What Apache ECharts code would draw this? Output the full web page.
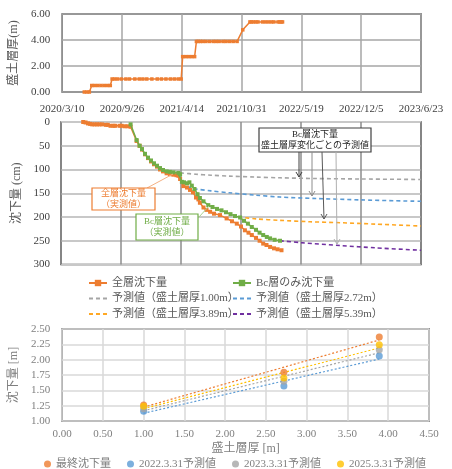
<!DOCTYPE html>
<html><head><meta charset="utf-8">
<script src="https://cdn.jsdelivr.net/npm/echarts@6/dist/echarts.min.js"></script>
<style>html,body{margin:0;padding:0;background:#fff}#c{width:452px;height:469px}</style>
</head><body><div id="c"></div>
<script>
// x values in the two time charts = days since 2020/3/10
const dateTicks = ['2020/3/10','2020/9/26','2021/4/14','2021/10/31','2022/5/19','2022/12/5','2023/6/23'];

// 盛土層厚 (m)
const fillThickness = [[74,0],[83,0],[91,0],[99,0.5],[108,0.5],[119,0.5],[130,0.5],[141,0.5],[152,0.5],[161,0.5],
 [167,1],[175,1],[185,1],[198,1],[213,1],[225,1],[243,1],[258,1],[270,1],[283,1],[300,1],[318,1],[332,1],[347,1],[362,1],[375,1],[388,1],[398,1],
 [403,2.72],[413,2.72],[423,2.72],[433,2.72],[443,2.72],
 [449,3.89],[455,3.89],[462,3.89],[470,3.89],[480,3.89],[492,3.89],[505,3.89],[515,3.89],[525,3.89],[538,3.89],[548,3.89],[560,3.89],[572,3.89],[585,3.89],
 [604,4.78],
 [628,5.39],[633,5.39],[640,5.39],[648,5.39],[655,5.39],[670,5.39],[680,5.39],[690,5.39],[700,5.39],[708,5.39],[722,5.39],[728,5.39],[733,5.39],[737,5.39]];

// 全層沈下量 (cm)
const totalSettle = [[74,0],[82,1],[90,3],[97,4],[104,5],[112,5],[120,5],[128,5],[137,5],[150,6],[156,6],[165,8],[175,8],[180,8],[195,8],[202,8],[212,9],[222,9],[232,10],
 [252,40],[262,50],[270,58],[280,68],[290,76],[300,83],[310,89],[320,94],[330,100],[340,104],[352,108],[363,110],[375,111],[385,112],[391,113],[397,120],
 [408,135],[420,138],[430,143],[440,148],[450,159],[458,163],[463,170],[475,180],[485,185],[497,189],[510,193],[530,196],[552,203],[570,209],[586,214],
 [600,220],[613,228],[625,233],[636,238],[650,244],[662,250],[674,256],[685,259],[697,263],[710,266],[722,268],[735,270]];

// Bc層のみ沈下量 (cm)
const bcSettle = [[232,5],[252,38],[262,50],[270,57],[280,67],[290,75],[300,81],[310,87],[320,92],[330,97],[340,101],[352,104],[363,105],[375,106],[391,107],[397,110],
 [403,126],[410,127],[420,129],[428,127],[436,134],[445,141],[455,152],[463,160],[475,167],[491,175],[505,179],[520,183],[535,186],[550,190],[565,194],[580,198],
 [597,201],[610,208],[623,214],[636,221],[650,227],[662,233],[674,238],[686,242],[697,245],[712,248],[730,250]];

// 予測値 (cm)
const pred100 = [[397,107],[450,110],[500,112],[560,114],[650,116],[730,117.5],[850,119],[1000,120],[1200,121]];
const pred272 = [[420,136],[450,141],[500,145],[560,149],[650,154],[730,158],[850,161],[1000,164],[1200,167]];
const pred389 = [[591,200],[650,204],[730,207],[830,210],[930,212],[1050,215],[1200,219]];
const pred539 = [[730,250],[800,254],[930,260],[1050,265],[1200,270]];

// bottom chart
const thickness = [1.00, 2.72, 3.89];
const finalSettle = [1.26, 1.795, 2.37];
const p2022 = [1.16, 1.57, 2.06];
const p2023 = [1.20, 1.65, 2.16];
const p2025 = [1.24, 1.70, 2.245];

const FONT = "'Liberation Serif','Noto Sans CJK JP',serif";
const C_OR = '#ED7D31', C_GR = '#70AD47', C_GY = '#A5A5A5', C_BL = '#5B9BD5', C_YE = '#FFA824', C_PU = '#7030A0', C_Y2 = '#FFC000';

function dayLabel(v){ return dateTicks[Math.round(v/200)] || ''; }
function pairs(xs, ys){ return xs.map((x,i)=>[x, ys[i]]); }
function trend(xs, ys){
  const n=xs.length, mx=xs.reduce((a,b)=>a+b)/n, my=ys.reduce((a,b)=>a+b)/n;
  let sxy=0,sxx=0; xs.forEach((x,i)=>{sxy+=(x-mx)*(ys[i]-my); sxx+=(x-mx)*(x-mx);});
  const b=sxy/sxx, a=my-b*mx; const x0=xs[0], x1=xs[n-1];
  return [[x0,a+b*x0],[x1,a+b*x1]];
}

const lab = (c, extra) => Object.assign({color:c, fontSize:11, fontFamily:FONT}, extra||{});
const nameStyle = (c) => ({color:c, fontSize:12, fontFamily:FONT});

const chart = echarts.init(document.getElementById('c'), null, {renderer:'canvas'});
const predLine = (name, data, color) => ({name, type:'line', xAxisIndex:1, yAxisIndex:1, data, symbol:'none', smooth:0.3,
  color, lineStyle:{color, width:1.6, type:[4,3]}, z:3});
const trendLine = (data, color) => ({type:'line', xAxisIndex:2, yAxisIndex:2, data, symbol:'none', silent:true,
  lineStyle:{color, width:1.2, type:[2,2]}, z:2});
const scatter = (name, ys, color) => ({name, type:'scatter', xAxisIndex:2, yAxisIndex:2, data:pairs(thickness, ys), symbolSize:7, color, itemStyle:{color}, z:4});
const noDot = (name) => ({name, itemStyle:{opacity:0}});

// annotations (pixel overlays)
const annFont = '9px ' + FONT;
function arrow(x1,y1,x2,y2,color){
  return [{type:'line', shape:{x1,y1,x2,y2}, style:{stroke:color, lineWidth:1}, z:100},
          {type:'polyline', shape:{points:[[x2-3,y2-5],[x2,y2],[x2+3,y2-5]]}, style:{stroke:color, lineWidth:1, fill:null}, z:100}];
}
const graphics = [
  {type:'line', shape:{x1:147,y1:188,x2:173,y2:174}, style:{stroke:'#F4B183', lineWidth:1}, z:99},
  {type:'rect', shape:{x:92,y:188,width:63,height:22}, style:{fill:'#fff', stroke:C_OR, lineWidth:1.2}, z:100},
  {type:'text', x:123.5, y:194, style:{text:'全層沈下量', fill:C_OR, font:annFont, align:'center', verticalAlign:'middle'}, z:101},
  {type:'text', x:123.5, y:205, style:{text:'（実測値）', fill:C_OR, font:annFont, align:'center', verticalAlign:'middle'}, z:101},
  {type:'line', shape:{x1:199,y1:217,x2:209,y2:206}, style:{stroke:'#A9D18E', lineWidth:1}, z:99},
  {type:'rect', shape:{x:136,y:214,width:62,height:26}, style:{fill:'#fff', stroke:C_GR, lineWidth:1.2}, z:100},
  {type:'text', x:167, y:221.5, style:{text:'Bc層沈下量', fill:C_GR, font:annFont, align:'center', verticalAlign:'middle'}, z:101},
  {type:'text', x:167, y:233, style:{text:'（実測値）', fill:C_GR, font:annFont, align:'center', verticalAlign:'middle'}, z:101},
  {type:'rect', shape:{x:259,y:128,width:112,height:24}, style:{fill:'#fff', stroke:'#404040', lineWidth:1.2}, z:100},
  {type:'text', x:315, y:134.5, style:{text:'Bc層沈下量', fill:'#262626', font:annFont, align:'center', verticalAlign:'middle'}, z:101},
  {type:'text', x:315, y:145.5, style:{text:'盛土層厚変化ごとの予測値', fill:'#262626', font:annFont, align:'center', verticalAlign:'middle'}, z:101},
  ...arrow(299,152,299,177,'#404040'),
  ...arrow(312,152,312,196,'#8c8c8c'),
  ...arrow(322,152,324,219,'#595959'),
  ...arrow(336,152,337,244,'#b0b0b0')
];

const option = {
  animation:false,
  backgroundColor:'#fff',
  textStyle:{fontFamily:FONT},
  grid:[
    {left:61, top:14, width:360, height:78, show:true, borderColor:'#404040', borderWidth:1.5},
    {left:61, top:122, width:360, height:142.5, show:true, borderColor:'#404040', borderWidth:1.5},
    {left:62, top:329, width:367, height:92, show:true, borderColor:'#404040', borderWidth:1.5}
  ],
  xAxis:[
    {gridIndex:0, type:'value', min:0, max:1200, interval:200, axisLine:{show:false}, axisTick:{show:false},
     axisLabel:lab('#404040',{formatter:dayLabel, margin:12, showMinLabel:true, showMaxLabel:true}),
     splitLine:{lineStyle:{color:'#a6a6a6', width:1.5}}},
    {gridIndex:1, type:'value', min:0, max:1200, interval:200, axisLine:{show:false}, axisTick:{show:false},
     axisLabel:{show:false}, splitLine:{lineStyle:{color:'#8c8c8c', width:1.5}}},
    {gridIndex:2, type:'value', min:0, max:4.5, interval:0.5, axisLine:{show:false}, axisTick:{show:false},
     name:'盛土層厚 [m]', nameLocation:'middle', nameGap:22, nameTextStyle:nameStyle('#7f7f7f'),
     axisLabel:lab('#7f7f7f',{formatter:v=>v.toFixed(2), margin:8}),
     splitLine:{lineStyle:{color:'#d9d9d9', width:1.5}}}
  ],
  yAxis:[
    {gridIndex:0, type:'value', min:0, max:6, interval:2, axisLine:{show:false}, axisTick:{show:false},
     name:'盛土層厚(m)', nameLocation:'middle', nameGap:39, nameTextStyle:nameStyle('#595959'),
     axisLabel:lab('#404040',{formatter:v=>v.toFixed(2), margin:12}),
     splitLine:{lineStyle:{color:'#a6a6a6', width:1.5}}},
    {gridIndex:1, type:'value', inverse:true, min:0, max:300, interval:50, axisLine:{show:false}, axisTick:{show:false},
     name:'沈下量 (cm)', nameLocation:'middle', nameGap:36, nameTextStyle:nameStyle('#595959'),
     axisLabel:lab('#404040',{margin:11}),
     splitLine:{lineStyle:{color:'#c8c8c8', width:2}}},
    {gridIndex:2, type:'value', min:1, max:2.5, interval:0.25, axisLine:{show:false}, axisTick:{show:false},
     name:'沈下量 [m]', nameLocation:'middle', nameGap:37, nameTextStyle:nameStyle('#7f7f7f'),
     axisLabel:lab('#7f7f7f',{formatter:v=>v.toFixed(2), margin:12}),
     splitLine:{lineStyle:{color:'#d9d9d9', width:1.5}}}
  ],
  legend:[
    {left:88, top:277, padding:0, orient:'vertical', itemWidth:18, itemHeight:8, itemGap:3.5, selectedMode:false,
     data:['全層沈下量', noDot('予測値（盛土層厚1.00m）'), noDot('予測値（盛土層厚3.89m）')],
     textStyle:{fontSize:11, lineHeight:12, color:'#595959', fontFamily:FONT}},
    {left:232, top:277, padding:0, orient:'vertical', itemWidth:18, itemHeight:8, itemGap:3.5, selectedMode:false,
     data:['Bc層のみ沈下量', noDot('予測値（盛土層厚2.72m）'), noDot('予測値（盛土層厚5.39m）')],
     textStyle:{fontSize:11, lineHeight:12, color:'#595959', fontFamily:FONT}},
    {left:44, top:458, padding:0, itemWidth:7, itemHeight:7, itemGap:16, icon:'circle', selectedMode:false,
     data:['最終沈下量','2022.3.31予測値','2023.3.31予測値','2025.3.31予測値'],
     textStyle:{fontSize:11, lineHeight:12, color:'#7f7f7f', fontFamily:FONT}}
  ],
  series:[
    {type:'line', xAxisIndex:0, yAxisIndex:0, data:fillThickness, symbol:'rect', symbolSize:3.5,
     color:C_OR, lineStyle:{color:C_OR, width:1.5}, itemStyle:{color:C_OR}},
    {name:'全層沈下量', type:'line', xAxisIndex:1, yAxisIndex:1, data:totalSettle, symbol:'rect', symbolSize:4,
     color:C_OR, lineStyle:{color:C_OR, width:1.5}, itemStyle:{color:C_OR}, z:4},
    {name:'Bc層のみ沈下量', type:'line', xAxisIndex:1, yAxisIndex:1, data:bcSettle, symbol:'rect', symbolSize:4,
     color:C_GR, lineStyle:{color:C_GR, width:1.5}, itemStyle:{color:C_GR}, z:5},
    predLine('予測値（盛土層厚1.00m）', pred100, C_GY),
    predLine('予測値（盛土層厚2.72m）', pred272, C_BL),
    predLine('予測値（盛土層厚3.89m）', pred389, C_YE),
    predLine('予測値（盛土層厚5.39m）', pred539, C_PU),
    trendLine(trend(thickness, finalSettle), C_OR),
    trendLine(trend(thickness, p2022), C_BL),
    trendLine(trend(thickness, p2023), C_GY),
    trendLine(trend(thickness, p2025), C_Y2),
    scatter('最終沈下量', finalSettle, C_OR),
    scatter('2022.3.31予測値', p2022, C_BL),
    scatter('2023.3.31予測値', p2023, C_GY),
    scatter('2025.3.31予測値', p2025, C_Y2)
  ],
  graphic: graphics
};
chart.setOption(option);
</script></body></html>
